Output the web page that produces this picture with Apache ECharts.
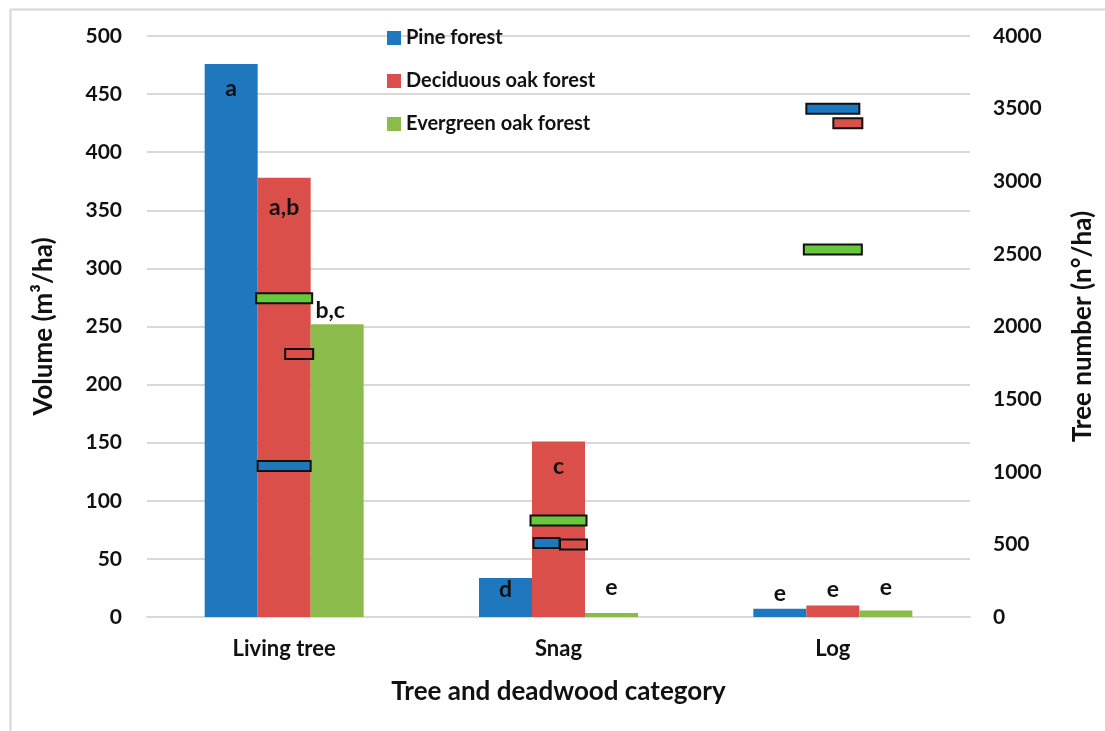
<!DOCTYPE html>
<html>
<head>
<meta charset="utf-8">
<script src="https://cdn.jsdelivr.net/npm/echarts@6/dist/echarts.min.js"></script>
<style>
  html, body { margin: 0; padding: 0; background: #ffffff; }
  #chart { width: 1105px; height: 731px; }
</style>
</head>
<body>
<div id="chart"></div>
<script>
// Tree and deadwood categories on the x axis
const categories = ['Living tree', 'Snag', 'Log'];

// Volume (m³/ha), left axis
const pineVolume = [476, 33.5, 7];
const deciduousVolume = [378, 151, 10];
const evergreenVolume = [252, 3.5, 5.5];

// Tree number (n°/ha), right axis
const pineNumber = [1040, 510, 3500];
const deciduousNumber = [1810, 500, 3400];
const evergreenNumber = [2195, 665, 2530];

// Significance letters written on the volume bars
const pineLetters = ['a', 'd', 'e'];
const deciduousLetters = ['a,b', 'c', 'e'];
const evergreenLetters = ['b,c', 'e', 'e'];

// Axis ranges
const volumeMax = 500, volumeStep = 50;
const numberMax = 4000, numberStep = 500;

// ---- styling ----
const FONT = 'Lato, "Open Sans", sans-serif';
const colors = { pine: '#1f78be', deciduous: '#db4f4a', evergreen: '#8bbb4b' };
const markerColors = { pine: '#1f78be', deciduous: '#db4f4a', evergreen: '#66c83a' };

// label placement for each bar: [position, distance, dx]
const pineLabelPos = [['insideTop', 13, 0], ['insideTop', 0, 0], ['top', 4, 0]];
const deciduousLabelPos = [['insideTop', 18, 0], ['insideTop', 14, 0], ['top', 4, 0]];
const evergreenLabelPos = [['top', 2, -7], ['top', 14, 0], ['top', 12, 0]];

// tree-number marker geometry per category: [width, horizontal shift]
const pineMarker = [[53, 0], [26, -12], [53, 0]];
const deciduousMarker = [[28, 15], [27, 15], [29, 15]];
const evergreenMarker = [[56, 0], [56, 0], [58, 0]];
const MARKER_H = 10;

function barData(values, letters, layout) {
  return values.map((v, i) => ({
    value: v,
    label: {
      show: true,
      formatter: letters[i],
      position: layout[i][0],
      distance: layout[i][1],
      offset: [layout[i][2], 0],
      color: '#111',
      fontFamily: FONT,
      fontWeight: 'bold',
      fontSize: 23
    }
  }));
}

function barSeries(name, values, letters, layout, color) {
  return {
    name: name,
    type: 'bar',
    yAxisIndex: 0,
    barWidth: 53,
    barGap: '0%',
    itemStyle: { color: color },
    data: barData(values, letters, layout),
    z: 2
  };
}

// Tree-number markers: outlined boxes positioned through the category / right value axes
function markerSeries(name, values, geom, color) {
  return {
    name: name,
    type: 'custom',
    yAxisIndex: 1,
    encode: { x: 0, y: 1 },
    data: values.map((v, i) => [i, v]),
    z: 5,
    renderItem: function (params, api) {
      const p = api.coord([api.value(0), api.value(1)]);
      const g = geom[params.dataIndex];
      return {
        type: 'rect',
        shape: { x: p[0] + g[1] - g[0] / 2, y: p[1] - MARKER_H / 2, width: g[0], height: MARKER_H },
        style: { fill: color, stroke: '#111', lineWidth: 2 }
      };
    }
  };
}

const chart = echarts.init(document.getElementById('chart'), null, { renderer: 'canvas' });

chart.setOption({
  animation: false,
  backgroundColor: '#ffffff',
  grid: { left: 147, right: 135, top: 36, bottom: 114 },
  legend: {
    data: ['Pine forest', 'Deciduous oak forest', 'Evergreen oak forest'],
    orient: 'vertical',
    left: 382,
    top: 23,
    itemWidth: 14,
    itemHeight: 14,
    itemGap: 23,
    icon: 'rect',
    textStyle: { fontFamily: FONT, fontWeight: 'bold', fontSize: 20, color: '#111', lineHeight: 20 }
  },
  xAxis: {
    type: 'category',
    data: categories,
    name: 'Tree and deadwood category',
    nameLocation: 'middle',
    nameGap: 62,
    nameTextStyle: { fontFamily: FONT, fontWeight: 'bold', fontSize: 26, color: '#111' },
    axisLine: { show: true, lineStyle: { color: '#d9d9d9', width: 2 } },
    axisTick: { show: false },
    axisLabel: { fontFamily: FONT, fontWeight: 'bold', fontSize: 22, color: '#111', margin: 21 }
  },
  yAxis: [
    {
      type: 'value',
      min: 0,
      max: volumeMax,
      interval: volumeStep,
      name: 'Volume (m³/ha)',
      nameLocation: 'middle',
      nameGap: 90,
      nameTextStyle: { fontFamily: FONT, fontWeight: 'bold', fontSize: 26, color: '#111' },
      axisLine: { show: false },
      axisTick: { show: false },
      splitLine: { show: true, lineStyle: { color: '#d9d9d9', width: 2 } },
      axisLabel: { fontFamily: FONT, fontWeight: 'bold', fontSize: 21, color: '#111', margin: 25 }
    },
    {
      type: 'value',
      min: 0,
      max: numberMax,
      interval: numberStep,
      name: 'Tree number (n°/ha)',
      nameLocation: 'middle',
      nameGap: 100,
      nameRotate: 90,
      nameTextStyle: { fontFamily: FONT, fontWeight: 'bold', fontSize: 26, color: '#111' },
      axisLine: { show: false },
      axisTick: { show: false },
      splitLine: { show: false },
      axisLabel: {
        fontFamily: FONT, fontWeight: 'bold', fontSize: 21, color: '#111', margin: 23,
        formatter: function (v) { return String(v); }
      }
    }
  ],
  series: [
    barSeries('Pine forest', pineVolume, pineLetters, pineLabelPos, colors.pine),
    barSeries('Deciduous oak forest', deciduousVolume, deciduousLetters, deciduousLabelPos, colors.deciduous),
    barSeries('Evergreen oak forest', evergreenVolume, evergreenLetters, evergreenLabelPos, colors.evergreen),
    markerSeries('Pine forest (n°/ha)', pineNumber, pineMarker, markerColors.pine),
    markerSeries('Deciduous oak forest (n°/ha)', deciduousNumber, deciduousMarker, markerColors.deciduous),
    markerSeries('Evergreen oak forest (n°/ha)', evergreenNumber, evergreenMarker, markerColors.evergreen)
  ],
  graphic: [
    { type: 'line', shape: { x1: 10.5, y1: 9, x2: 10.5, y2: 731 }, style: { stroke: '#d6d6d6', lineWidth: 2 }, silent: true },
    { type: 'line', shape: { x1: 10, y1: 9.5, x2: 1105, y2: 9.5 }, style: { stroke: '#d6d6d6', lineWidth: 2 }, silent: true }
  ]
});
</script>
</body>
</html>
